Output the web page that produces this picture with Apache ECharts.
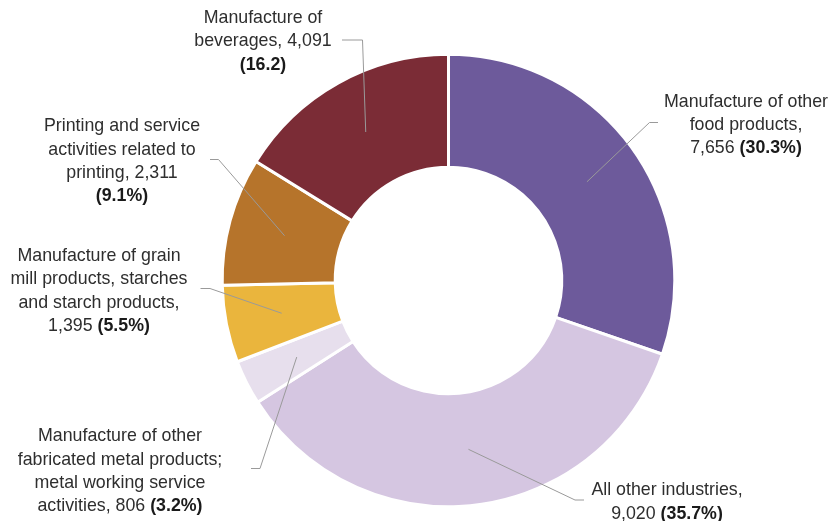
<!DOCTYPE html>
<html>
<head>
<meta charset="utf-8">
<title>Employment by industry</title>
<script src="https://cdn.jsdelivr.net/npm/echarts@6/dist/echarts.min.js"></script>
<style>
  html, body { margin: 0; padding: 0; background: #ffffff; }
  #chart { width: 833px; height: 521px; }
</style>
</head>
<body>
<div id="chart"></div>
<script>
// Industry names (line breaks are where the label wraps)
const categories = [
  'Manufacture of other\nfood products',
  'All other industries',
  'Manufacture of other\nfabricated metal products;\nmetal working service\nactivities',
  'Manufacture of grain\nmill products, starches\nand starch products',
  'Printing and service\nactivities related to\nprinting',
  'Manufacture of\nbeverages'
];
// Number of employees per industry
const employees = [7656, 9020, 806, 1395, 2311, 4091];

// How each label joins name, value and share
const valueSeparators = [',\n', ',\n', ', ', ',\n', ', ', ', '];
const shareSeparators = [' ', ' ', ' ', ' ', '\n', '\n'];
const shareSuffixes = ['%', '%', '%', '%', '%', ''];

const sliceColors = ['#6d5a9b', '#d5c6e1', '#e7dfed', '#eab53d', '#b6742b', '#7b2c36'];

// Label block centres, and the bend / end of each leader line
const labelAnchors = [[746, 125], [667, 502], [120, 471.5], [99, 291], [122, 161.5], [263, 41.5]];
const leaderBends = [
  [[649.5, 122.5], [658, 122.5]],
  [[575, 500], [584, 500]],
  [[260, 468.5], [251, 468.5]],
  [[210, 288.5], [200.5, 288.5]],
  [[218.5, 159.5], [210, 159.5]],
  [[362.5, 40], [342, 40]]
];

const pieData = categories.map((name, i) => ({ name: name, value: employees[i] }));

const chart = echarts.init(document.getElementById('chart'), null, { renderer: 'canvas' });

const pieCenter = [448.5, 280.5];

const textStyle = {
  fontFamily: 'Liberation Sans, Arial, sans-serif',
  fontSize: 17.8,
  lineHeight: 23.3,
  color: '#2e2e2e'
};

chart.setOption({
  animation: false,
  series: [
    {
      // the donut itself
      type: 'pie',
      z: 1,
      center: pieCenter,
      radius: [113.3, 226.3],
      startAngle: 90,
      clockwise: true,
      percentPrecision: 1,
      silent: true,
      emphasis: { disabled: true },
      itemStyle: {
        borderColor: '#ffffff',
        borderWidth: 3,
        color: (p) => sliceColors[p.dataIndex]
      },
      label: { show: false },
      labelLine: { show: false },
      data: pieData
    },
    {
      // transparent pie whose rim sits mid-ring: carries labels and leader lines
      type: 'pie',
      z: 5,
      center: pieCenter,
      radius: [0, 170],
      startAngle: 90,
      clockwise: true,
      percentPrecision: 1,
      silent: true,
      avoidLabelOverlap: false,
      emphasis: { disabled: true },
      itemStyle: { color: 'rgba(0,0,0,0)', borderWidth: 0 },
      label: {
        show: true,
        position: 'outside',
        alignTo: 'none',
        overflow: 'none',
        ...textStyle,
        rich: {
          b: Object.assign({}, textStyle, { fontWeight: 'bold', color: '#1a1a1a' })
        },
        formatter: (p) => {
          const i = p.dataIndex;
          const val = employees[i].toLocaleString('en-US');
          const share = '(' + p.percent.toFixed(1) + shareSuffixes[i] + ')';
          return categories[i] + valueSeparators[i] + val + shareSeparators[i] + '{b|' + share + '}';
        }
      },
      labelLine: {
        show: true,
        length: 20,
        length2: 10,
        smooth: false,
        lineStyle: { color: '#9a9a9a', width: 1 }
      },
      labelLayout: (p) => {
        const i = p.dataIndex;
        const a = labelAnchors[i];
        const b = leaderBends[i];
        const out = { x: a[0], y: a[1], align: 'center', verticalAlign: 'middle' };
        if (p.labelLinePoints && p.labelLinePoints.length) {
          out.labelLinePoints = [p.labelLinePoints[0], b[0], b[1]];
        }
        return out;
      },
      data: pieData
    }
  ]
});
</script>
</body>
</html>
